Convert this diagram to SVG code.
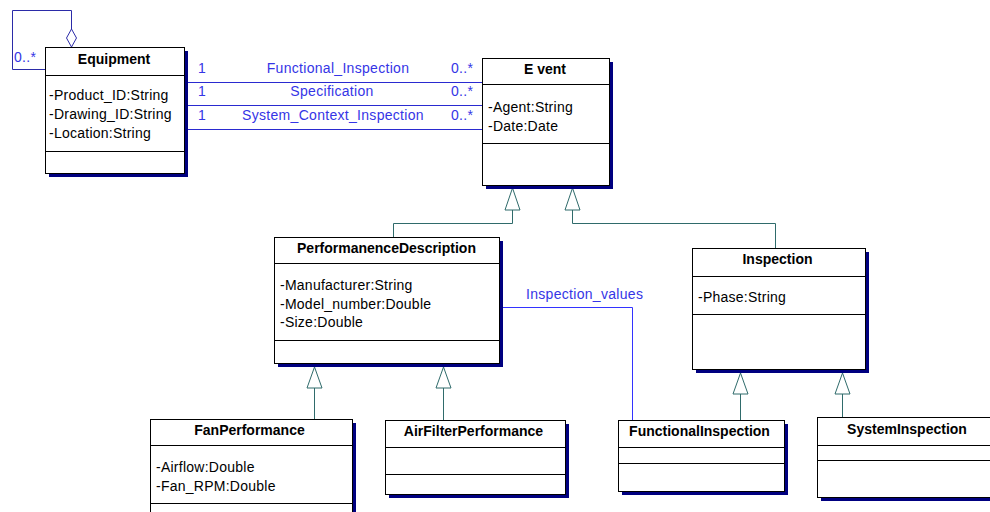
<svg xmlns="http://www.w3.org/2000/svg" width="990" height="512" viewBox="0 0 990 512">
<style>
.box{fill:#fff;stroke:#000;stroke-width:1}
.sh{fill:#000080}
.dv{stroke:#000;stroke-width:1}
.t{font-family:"Liberation Sans",Arial,sans-serif;font-size:14px;font-weight:bold;text-anchor:middle;fill:#000}
.a{font-family:"Liberation Sans",Arial,sans-serif;font-size:14px;letter-spacing:0.25px;fill:#000}
.al{font-family:"Liberation Sans",Arial,sans-serif;font-size:14px;letter-spacing:0.3px;fill:#3535e6}
.as{fill:none;stroke:#2a2ad0;stroke-width:1}
.gen{fill:none;stroke:#2f6b6b;stroke-width:1}
.tri{fill:#fff;stroke:#2f6b6b;stroke-width:1}
</style>
<rect width="990" height="512" fill="#fff"/>
<g id="connectors">
<polyline class="as" points="71.5,29 71.5,10.5 12.5,10.5 12.5,69.5 45,69.5" style="stroke:#2b2ba8"/>
<polygon points="71.5,29 76.5,38 71.5,47 66.5,38" fill="#fff" stroke="#2b2ba8"/>
<text class="al" x="14" y="62">0..*</text>
<line class="as" x1="184" y1="82.5" x2="482" y2="82.5"/>
<line class="as" x1="184" y1="105.5" x2="482" y2="105.5"/>
<line class="as" x1="184" y1="129.5" x2="482" y2="129.5"/>
<text class="al" x="198" y="73">1</text>
<text class="al" x="338" y="73" text-anchor="middle">Functional_Inspection</text>
<text class="al" x="451" y="73">0..*</text>
<text class="al" x="198" y="96">1</text>
<text class="al" x="332" y="96" text-anchor="middle">Specification</text>
<text class="al" x="451" y="96">0..*</text>
<text class="al" x="198" y="120">1</text>
<text class="al" x="333" y="120" text-anchor="middle">System_Context_Inspection</text>
<text class="al" x="451" y="120">0..*</text>
<polyline class="as" points="499,307.5 632.5,307.5 632.5,420" style="stroke:#3333ff"/>
<text class="al" x="526" y="299">Inspection_values</text>
<polyline class="gen" points="512.5,210 512.5,223.5 393.5,223.5 393.5,237"/>
<polygon class="tri" points="512.5,188 520,210 505,210"/>
<polyline class="gen" points="572.5,210 572.5,223.5 775.5,223.5 775.5,248"/>
<polygon class="tri" points="572.5,188 580,210 565,210"/>
<line class="gen" x1="314.5" y1="388" x2="314.5" y2="419"/>
<polygon class="tri" points="314.5,367 322,388 307,388"/>
<line class="gen" x1="443.5" y1="388" x2="443.5" y2="420"/>
<polygon class="tri" points="443.5,367 451,388 436,388"/>
<line class="gen" x1="740.5" y1="394" x2="740.5" y2="420"/>
<polygon class="tri" points="740.5,373 748,394 733,394"/>
<line class="gen" x1="842.5" y1="394" x2="842.5" y2="417"/>
<polygon class="tri" points="842.5,373 850,394 835,394"/>
</g>
<g id="Equipment">
<rect class="sh" x="49" y="51" width="139" height="126"/>
<rect class="box" x="45.5" y="47.5" width="139" height="126"/>
<line class="dv" x1="45" y1="75.5" x2="184" y2="75.5"/>
<line class="dv" x1="45" y1="151.5" x2="184" y2="151.5"/>
<text class="t" x="114" y="64">Equipment</text>
<text class="a" x="49" y="100">-Product_ID:String</text>
<text class="a" x="49" y="119">-Drawing_ID:String</text>
<text class="a" x="49" y="138">-Location:String</text>
</g>
<g id="Event">
<rect class="sh" x="486" y="62" width="127" height="127"/>
<rect class="box" x="482.5" y="58.5" width="127" height="127"/>
<line class="dv" x1="482" y1="84.5" x2="609" y2="84.5"/>
<line class="dv" x1="482" y1="143.5" x2="609" y2="143.5"/>
<text class="t" x="545" y="74">E vent</text>
<text class="a" x="488" y="112">-Agent:String</text>
<text class="a" x="488" y="131">-Date:Date</text>
</g>
<g id="PerformanenceDescription">
<rect class="sh" x="278" y="241" width="225" height="126"/>
<rect class="box" x="274.5" y="237.5" width="225" height="126"/>
<line class="dv" x1="274" y1="263.5" x2="499" y2="263.5"/>
<line class="dv" x1="274" y1="340.5" x2="499" y2="340.5"/>
<text class="t" x="386.5" y="253">PerformanenceDescription</text>
<text class="a" x="280" y="290">-Manufacturer:String</text>
<text class="a" x="280" y="309">-Model_number:Double</text>
<text class="a" x="280" y="327">-Size:Double</text>
</g>
<g id="Inspection">
<rect class="sh" x="696" y="252" width="173" height="121"/>
<rect class="box" x="692.5" y="248.5" width="173" height="121"/>
<line class="dv" x1="692" y1="276.5" x2="865" y2="276.5"/>
<line class="dv" x1="692" y1="314.5" x2="865" y2="314.5"/>
<text class="t" x="777.5" y="264">Inspection</text>
<text class="a" x="698" y="302">-Phase:String</text>
</g>
<g id="FanPerformance">
<rect class="sh" x="154" y="423" width="202" height="100"/>
<rect class="box" x="150.5" y="419.5" width="202" height="100"/>
<line class="dv" x1="150" y1="445.5" x2="352" y2="445.5"/>
<line class="dv" x1="150" y1="503.5" x2="352" y2="503.5"/>
<text class="t" x="249.5" y="435">FanPerformance</text>
<text class="a" x="156" y="472">-Airflow:Double</text>
<text class="a" x="156" y="491">-Fan_RPM:Double</text>
</g>
<g id="AirFilterPerformance">
<rect class="sh" x="389" y="424" width="180" height="74"/>
<rect class="box" x="385.5" y="420.5" width="180" height="74"/>
<line class="dv" x1="385" y1="447.5" x2="565" y2="447.5"/>
<line class="dv" x1="385" y1="474.5" x2="565" y2="474.5"/>
<text class="t" x="473.5" y="436">AirFilterPerformance</text>
</g>
<g id="FunctionalInspection">
<rect class="sh" x="622" y="424" width="166" height="71"/>
<rect class="box" x="618.5" y="420.5" width="166" height="71"/>
<line class="dv" x1="618" y1="447.5" x2="784" y2="447.5"/>
<line class="dv" x1="618" y1="463.5" x2="784" y2="463.5"/>
<text class="t" x="699.5" y="436">FunctionalInspection</text>
</g>
<g id="SystemInspection">
<rect class="sh" x="821" y="421" width="180" height="80"/>
<rect class="box" x="817.5" y="417.5" width="180" height="80"/>
<line class="dv" x1="817" y1="445.5" x2="997" y2="445.5"/>
<line class="dv" x1="817" y1="460.5" x2="997" y2="460.5"/>
<text class="t" x="907" y="434">SystemInspection</text>
</g>
</svg>
